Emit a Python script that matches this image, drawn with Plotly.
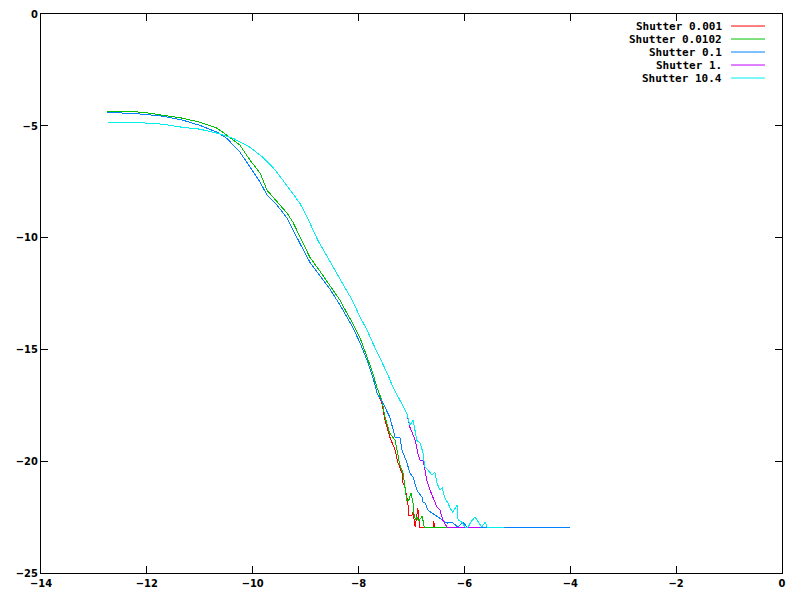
import plotly.graph_objects as go

# ---- data ----
names = ["Shutter 0.001", "Shutter 0.0102", "Shutter 0.1", "Shutter 1.", "Shutter 10.4"]
colors = ["#ff0000", "#00c000", "#0080ff", "#c000ff", "#00eeee"]

red_x = [-12.75, -12.07, -11.70, -11.32, -11.00, -10.67, -10.49, -10.24, -10.05, -9.86, -9.73, -9.54,
         -9.35, -9.24, -9.11, -8.92, -8.73, -8.54, -8.35, -8.22, -8.11, -7.97, -7.84, -7.73, -7.65,
         -7.56, -7.50, -7.41, -7.31, -7.26, -7.18, -7.16, -7.12, -7.07, -7.05, -6.99, -6.97, -6.93,
         -6.88, -6.84, -6.59, -6.58, -6.56, -6.37]
red_y = [-4.39, -4.48, -4.57, -4.75, -4.98, -5.29, -5.56, -6.18, -6.85, -7.52, -8.10, -8.55,
         -9.13, -9.67, -10.25, -11.10, -11.68, -12.31, -13.02, -13.56, -14.01, -14.72, -15.48, -16.24, -16.96,
         -17.40, -18.16, -18.92, -19.50, -20.04, -20.53, -20.98, -21.20, -21.83, -22.41, -22.41, -22.28, -22.95,
         -22.10, -22.95, -22.95, -22.68, -22.95, -22.95]

green_x = [-12.75, -12.07, -11.70, -11.32, -11.00, -10.67, -10.49, -10.24, -10.05, -9.86, -9.73, -9.54,
           -9.35, -9.24, -9.11, -8.92, -8.73, -8.54, -8.35, -8.22, -8.11, -7.97, -7.84, -7.73, -7.65,
           -7.56, -7.50, -7.41, -7.31, -7.26, -7.22, -7.16, -7.12, -7.09, -7.05, -7.01, -6.97, -6.95,
           -6.92, -6.90, -6.86, -6.80, -6.78, -6.76, -6.27]
green_y = [-4.34, -4.39, -4.53, -4.66, -4.84, -5.11, -5.42, -5.87, -6.54, -7.12, -7.88, -8.42,
           -8.91, -9.31, -9.98, -10.88, -11.50, -12.13, -12.80, -13.38, -13.83, -14.50, -15.30, -16.06, -16.73,
           -17.27, -18.03, -18.75, -19.06, -19.64, -20.17, -20.53, -21.16, -21.74, -21.74, -21.43, -21.87, -22.41,
           -22.63, -22.50, -22.68, -22.45, -22.68, -22.95, -22.95]

blue_x = [-12.75, -12.07, -11.70, -11.32, -11.00, -10.67, -10.49, -10.24, -10.05, -9.86, -9.73, -9.54,
          -9.35, -9.24, -9.11, -8.92, -8.73, -8.54, -8.35, -8.22, -8.11, -7.97, -7.84, -7.73, -7.65,
          -7.54, -7.41, -7.31, -7.22, -7.18, -7.12, -7.09, -7.03, -6.97, -6.90, -6.80, -6.78, -6.75,
          -6.69, -6.61, -6.50, -6.42, -6.33, -6.24, -6.12, -6.03, -5.95, -4.00]
blue_y = [-4.39, -4.48, -4.57, -4.75, -4.98, -5.29, -5.56, -6.18, -6.85, -7.52, -8.10, -8.55,
          -9.13, -9.67, -10.25, -11.10, -11.68, -12.31, -13.02, -13.56, -14.01, -14.72, -15.48, -16.24, -16.96,
          -17.40, -18.03, -18.92, -18.92, -19.50, -19.82, -20.04, -20.53, -20.71, -21.29, -21.61, -21.87, -21.83,
          -22.19, -22.32, -22.50, -22.63, -22.77, -22.72, -22.95, -22.72, -22.95, -22.95]

magenta_x = [-12.75, -12.07, -11.70, -11.32, -11.00, -10.67, -10.37, -10.05, -9.81, -9.62, -9.43, -9.24,
             -9.11, -8.97, -8.86, -8.77, -8.48, -8.22, -8.12, -7.97, -7.84, -7.73, -7.60, -7.46, -7.35,
             -7.22, -7.09, -7.03, -6.93, -6.88, -6.84, -6.78, -6.71, -6.65, -6.59, -6.52, -6.46, -6.42,
             -6.41, -6.33, -5.71]
magenta_y = [-4.83, -4.87, -4.93, -5.07, -5.15, -5.33, -5.56, -5.96, -6.41, -6.85, -7.43, -8.02,
             -8.46, -9.09, -9.67, -10.12, -11.32, -12.35, -12.80, -13.56, -14.14, -14.72, -15.35, -16.06, -16.69,
             -17.27, -17.85, -18.48, -19.06, -19.64, -19.95, -19.95, -20.85, -21.29, -21.61, -22.05, -22.19, -22.50,
             -22.63, -22.95, -22.95]

cyan_x = [-12.75, -12.07, -11.70, -11.32, -11.00, -10.67, -10.37, -10.05, -9.81, -9.62, -9.43, -9.24,
          -9.11, -8.97, -8.86, -8.77, -8.48, -8.22, -8.12, -7.97, -7.84, -7.73, -7.60, -7.46, -7.35,
          -7.22, -7.09, -7.03, -6.97, -6.90, -6.84, -6.78, -6.75, -6.69, -6.61, -6.56, -6.52, -6.46,
          -6.42, -6.37, -6.31, -6.27, -6.22, -6.14, -6.12, -6.05, -5.99, -5.93, -5.88, -5.80, -5.74,
          -5.67, -5.61, -5.57, -5.25]
cyan_y = [-4.83, -4.87, -4.93, -5.07, -5.15, -5.33, -5.56, -5.96, -6.41, -6.85, -7.43, -8.02,
          -8.46, -9.09, -9.67, -10.12, -11.32, -12.35, -12.80, -13.56, -14.14, -14.72, -15.35, -16.06, -16.69,
          -17.27, -17.85, -18.39, -18.16, -19.06, -19.19, -19.64, -20.26, -20.40, -20.62, -20.49, -20.98, -21.29,
          -21.20, -21.65, -21.87, -22.10, -22.28, -21.96, -22.63, -22.72, -22.95, -22.95, -22.72, -22.50, -22.72,
          -22.95, -22.72, -22.95, -22.95]

x_ticks = [-14, -12, -10, -8, -6, -4, -2, 0]
y_ticks = [-25, -20, -15, -10, -5, 0]

series = [(red_x, red_y), (green_x, green_y), (blue_x, blue_y), (magenta_x, magenta_y), (cyan_x, cyan_y)]

fig = go.Figure()
for (xs, ys), name, col in zip(series, names, colors):
    fig.add_trace(go.Scatter(x=xs, y=ys, mode="lines", name=name,
                             line=dict(color=col, width=1), showlegend=False))

# gnuplot-style key: right-aligned text with line sample to the right
key_top = 0.9785
key_step = 0.023256
for i, (name, col) in enumerate(zip(names, colors)):
    yk = key_top - i * key_step
    fig.add_annotation(x=0.9204, y=yk, xref="paper", yref="paper", text=name, showarrow=False,
                       xanchor="right", yanchor="middle", borderpad=0,
                       font=dict(family="DejaVu Sans Mono", size=11, color="black", weight="bold"))
    fig.add_shape(type="line", xref="paper", yref="paper", x0=0.9312, x1=0.9771, y0=yk, y1=yk,
                  line=dict(color=col, width=1))

tickfont = dict(family="Liberation Sans Narrow, DejaVu Sans Condensed, sans-serif", size=11,
                color="black", weight="bold")
fig.update_layout(
    width=800, height=600,
    margin=dict(l=41, r=18, t=14, b=27, autoexpand=False),
    paper_bgcolor="white", plot_bgcolor="white",
    xaxis=dict(range=[-14, 0], tickvals=x_ticks, ticks="inside", ticklen=7, tickcolor="black",
               showline=True, linecolor="black", linewidth=1, mirror="allticks", automargin=False,
               showgrid=False, zeroline=False, tickfont=tickfont),
    yaxis=dict(range=[-25, 0], tickvals=y_ticks, ticks="inside", ticklen=7, tickcolor="black",
               showline=True, linecolor="black", linewidth=1, mirror="allticks", automargin=False,
               showgrid=False, zeroline=False, tickfont=tickfont),
)

page_fix = ("document.body.style.margin='0';"
            "var s=document.createElement('style');"
            "s.textContent='.js-plotly-plot .scatterlayer path{shape-rendering:crispEdges;}';"
            "document.head.appendChild(s);")
fig.write_html("out.html", post_script=page_fix, config={"displayModeBar": False})
